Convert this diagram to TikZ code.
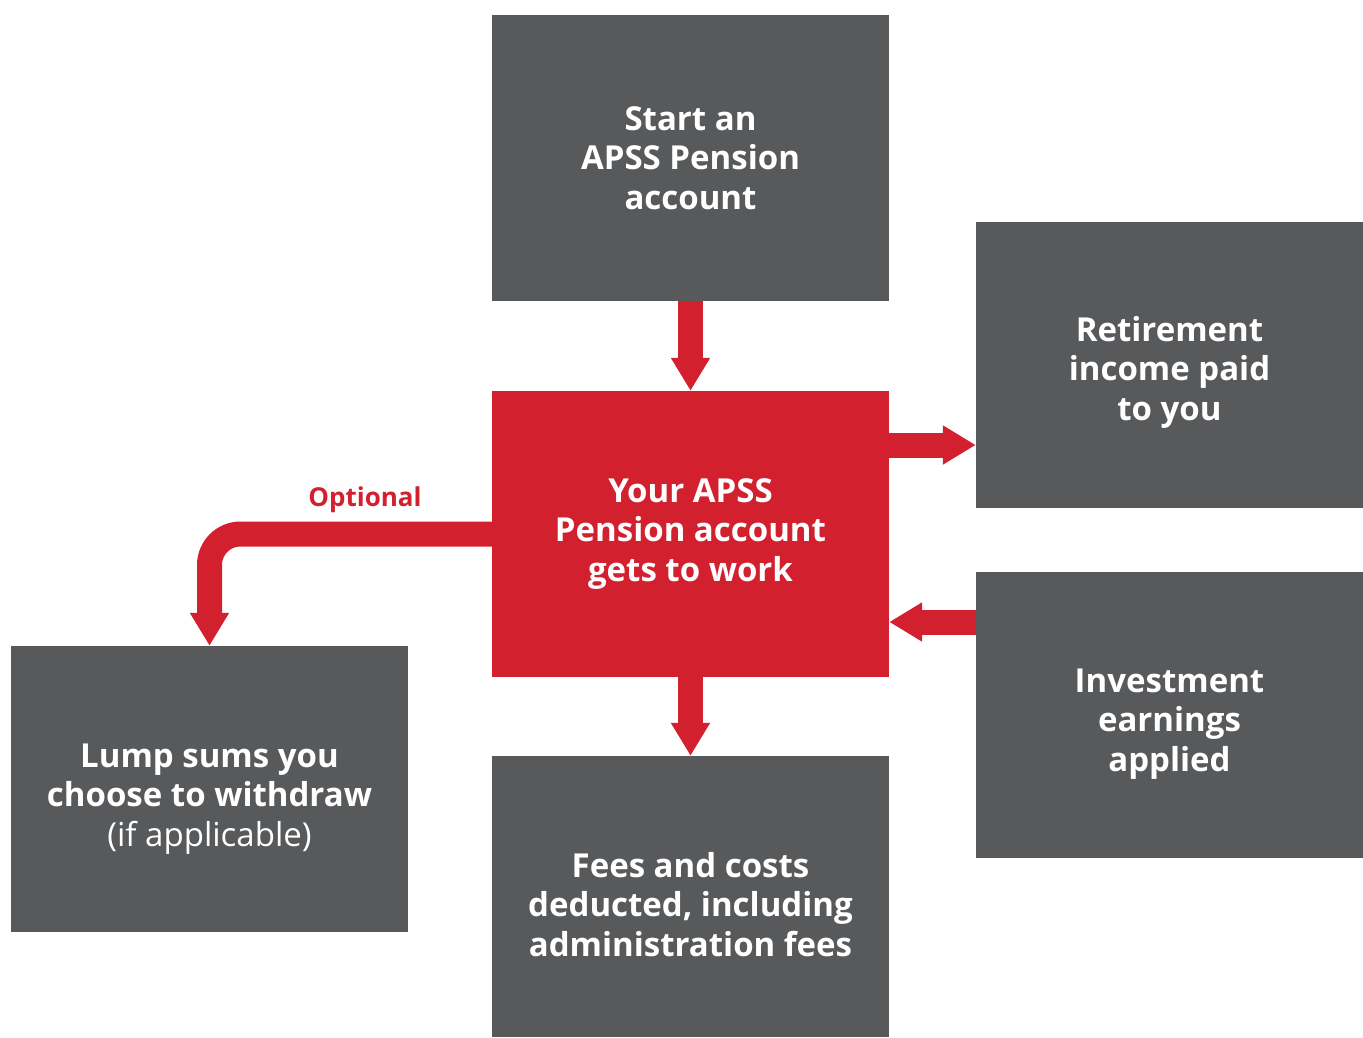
\documentclass[tikz,border=0pt]{standalone}
\usepackage{fontspec}
\setmainfont{Open Sans}
\usetikzlibrary{arrows.meta,calc}
\definecolor{boxgray}{HTML}{58595B}
\definecolor{apssred}{HTML}{D2202F}
\begin{document}
\begin{tikzpicture}[x=1pt,y=-1pt,
  box/.style={rectangle,fill=boxgray,minimum width=397pt,minimum height=286pt,inner sep=0pt},
  redbox/.style={box,fill=apssred},
  sidebox/.style={box,minimum width=387pt},
  caption/.style={text=white,align=center,inner sep=0pt,
    font=\fontsize{33}{39.5}\selectfont\bfseries},
  flow/.style={draw=apssred,line width=25pt,line cap=butt,
    -{Triangle[width=37pt,length=33pt,fill=apssred]}}]
\useasboundingbox (0,0) rectangle (1363,1037);

% boxes
\node[box] (start) at (690.5,158) {};
\node[redbox] (work) at (690.5,534) {};
\node[sidebox] (income) at (1169.5,365) {};
\node[sidebox] (earn) at (1169.5,715) {};
\node[box] (lump) at (209.5,789) {};
\node[box,minimum height=281pt] (fees) at (690.5,896.5) {};

% captions
\node[caption] (start-t) at (start.center) {Start an\\APSS Pension\\account};
\node[caption] (work-t) at (work.center) {Your APSS\\Pension account\\gets to work};
\node[caption] (income-t) at ([yshift=-7pt]income.center) {Retirement\\income paid\\to you};
\node[caption] (earn-t) at ([yshift=-9pt]earn.center) {Investment\\earnings\\applied};
\node[caption] (lump-t) at ([yshift=-10pt]lump.center) {Lump sums you\\choose to withdraw\\{\mdseries(if applicable)}};
\node[caption] (fees-t) at ([yshift=-8pt]fees.center) {Fees and costs\\deducted, including\\administration fees};

% flows
\draw[flow] (start.south) -- (work.north);
\draw[flow] (work.south) -- (fees.north);
\draw[flow] ([yshift=89pt]work.east) -- ([yshift=89pt]work.east -| income.west);
\draw[flow] ([yshift=-88pt]work.east -| earn.west) -- ([yshift=-88pt]work.east);
\draw[flow,rounded corners=31pt] (work.west) -| (lump.north);
\node[text=apssred,font=\fontsize{26}{30}\selectfont\bfseries] (opt) at (365,500) {Optional};
\end{tikzpicture}
\end{document}
